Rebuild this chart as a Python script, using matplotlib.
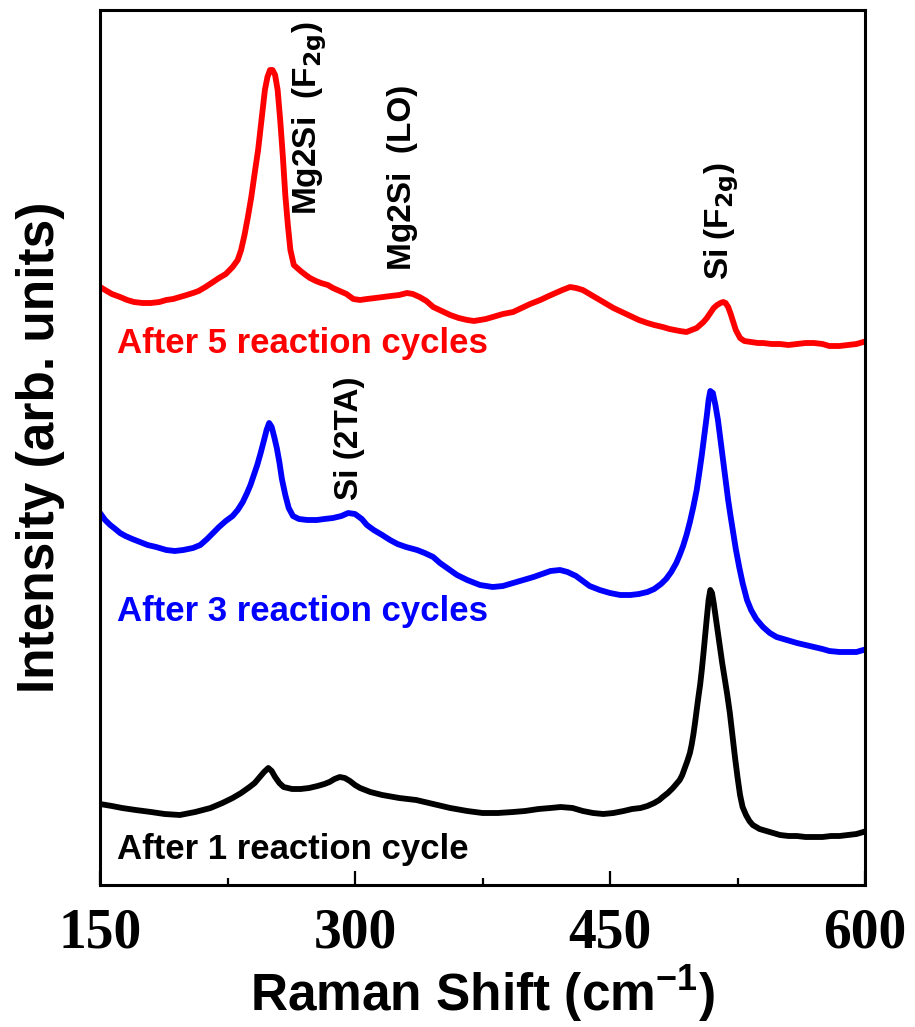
import matplotlib.pyplot as plt
from matplotlib.ticker import MultipleLocator

# Datos (intensidad en unidades arbitrarias)
shift_1 = [150, 157, 163, 171, 180, 188, 197, 206, 215, 222, 228, 233, 238, 241, 244, 246.5, 249,
           251, 253, 255.5, 258, 263, 268, 273, 278, 282, 285, 288, 291, 294, 297, 300, 303,
           309, 316, 326, 336, 346, 356, 366, 375, 384, 393, 400, 408, 415, 421, 428, 434,
           440, 446, 452, 458, 463, 468, 472, 476, 479, 481, 484, 487, 489, 491, 492.5, 494,
           495.5, 497, 498, 499, 500, 501, 502, 503, 504, 505, 506, 507, 508, 509, 510, 511,
           512, 513, 514.5, 516, 517.6, 519, 520.5, 522, 523.5, 525, 526.5, 528, 530, 532,
           534, 538, 542, 546, 550, 555, 560, 565, 569, 575, 580, 585, 590, 595, 599]
int_1 = [81, 79, 77, 75, 73, 71, 70, 73, 77, 82, 87, 92, 98, 102, 108, 113, 117,
         114, 108, 102, 98, 96, 96, 97, 99, 101, 103, 106, 108, 107, 104, 100, 97,
         93, 90, 87, 85, 81, 77, 74, 72, 72, 73, 74, 76, 77, 78, 77, 74,
         72, 71, 72, 74, 76, 77, 79, 82, 85, 88, 92, 97, 101, 105, 110, 117,
         124, 132, 140, 150, 162, 175, 188, 200, 215, 232, 250, 268, 285, 295, 292, 282,
         270, 258, 240, 222, 205, 190, 172, 150, 128, 108, 90, 78, 70, 64,
         60, 56, 54, 52, 50, 49, 49, 48, 48, 48, 49, 49, 50, 51, 53]

shift_3 = [150, 153, 156, 159, 161.8, 165, 169, 173.5, 178, 183, 189, 194, 199, 204.7, 209,
           213, 216.5, 220, 224, 228, 231, 234, 236.5, 238.5, 240.5, 242.5, 244.5, 246.5, 248,
           249.5, 251, 252.5, 254, 255.5, 257, 259, 261, 263.5, 267, 272, 277.6, 282, 287,
           292, 296, 300, 304, 307, 311, 316, 320.6, 325, 330, 336.5, 341, 346, 350, 355, 360,
           366, 373.5, 381, 387, 393, 399, 405, 410, 415, 420.6, 425, 430, 434, 438, 444, 450,
           456, 462, 467, 472, 476, 480, 483, 486, 489, 491, 493, 495, 497, 499, 501, 502.5,
           504, 505.5, 507, 508, 509, 510.5, 512, 513.5, 515, 516.5, 518, 519.5, 521, 522.5,
           524, 526, 528, 530.6, 533, 536, 540, 544, 548, 552, 556, 560, 565, 570, 575, 579,
           585, 590, 595, 599]
int_3 = [372, 365, 360, 356, 352, 349, 346, 343, 340, 338, 335, 334, 335, 337, 340,
         346, 352, 358, 364, 369, 375, 383, 392, 400, 410, 420, 432, 445, 455,
         462, 458, 448, 437, 423, 406, 390, 377, 369, 366, 365, 365, 366, 367,
         369, 372, 371, 366, 360, 355, 350, 345, 341, 338, 335, 332, 328, 322, 316, 310,
         305, 300, 298, 299, 302, 305, 308, 311, 314, 315, 313, 309, 304, 299, 295, 292,
         290, 290, 291, 293, 296, 301, 306, 313, 322, 330, 339, 350, 363, 378, 395, 412,
         430, 450, 470, 485, 494, 492, 480, 465, 445, 425, 405, 385, 368, 352,
         336, 318, 302, 285, 275, 266, 258, 252, 248, 246, 244, 242, 240, 238, 236, 234,
         233, 233, 233, 235]

shift_5 = [150, 153, 157, 161.8, 166, 170, 175, 180, 185, 189,
           193, 197, 201, 204.7, 208, 212, 216.5, 220, 224, 228,
           231, 233, 235, 237, 239, 241, 243, 245, 247, 248.5,
           250, 251.5, 253, 254.5, 256, 257.5, 259, 260.5, 262, 264,
           268, 271, 273.5, 277, 280, 284, 287, 291, 295, 299,
           303, 307, 312, 316.5, 321, 326, 330.6, 334, 338, 342,
           346, 351, 356, 361, 366, 370, 373.5, 377, 381, 387,
           393, 398, 403, 409, 414, 418, 422, 426.5, 430, 434,
           438, 442, 447, 452, 457, 462, 467, 472, 476, 481,
           485, 488, 491, 495, 498, 501, 503, 505, 507, 509,
           511, 513, 515, 516.6, 518, 519.5, 521, 522.5, 524, 526.5,
           529, 533, 537, 540, 545, 550, 555, 560, 565, 570,
           575, 579, 585, 590, 595, 599]
int_5 = [598, 595, 591, 588, 585, 583, 582, 582, 583, 585,
         586, 588, 590, 592, 594, 598, 603, 607, 611, 618,
         625, 635, 650, 668, 688, 712, 735, 765, 795, 808,
         815, 815, 810, 795, 765, 730, 690, 660, 635, 620,
         614, 610, 607, 604, 602, 600, 597, 594, 591, 586,
         585, 586, 587, 588, 589, 590, 592, 591, 588, 584,
         578, 574, 570, 567, 565, 564, 565, 566, 568, 571,
         573, 577, 581, 585, 589, 592, 595, 598, 597, 595,
         591, 587, 582, 577, 573, 569, 565, 562, 560, 558,
         556, 555, 554, 553, 555, 557, 560, 563, 567, 572,
         577, 580, 582, 583, 582, 578, 571, 563, 555, 547,
         544, 543, 542, 542, 541, 541, 540, 541, 542, 542,
         541, 539, 539, 540, 541, 543]

# Anotaciones (posicion x en cm-1, base del texto en unidades de intensidad)
etiquetas = [r'Mg2Si  (F$_{\mathbf{2g}}$)', 'Mg2Si  (LO)', 'Si (2TA)', r'Si (F$_{\mathbf{2g}}$)']
etiq_x = [273.5, 328, 297, 516]
etiq_y = [670, 615, 385, 605]

plt.rcParams['font.family'] = ['Liberation Sans', 'DejaVu Sans']
plt.rcParams['mathtext.default'] = 'regular'

fig = plt.figure(figsize=(9.15, 10.27), dpi=100)
ax = fig.add_axes([100/915, 142/1027, 765/915, 875/1027])

ax.plot(shift_1, int_1, color='black', lw=4.2, solid_joinstyle='round')
ax.plot(shift_3, int_3, color='blue', lw=4.2, solid_joinstyle='round')
ax.plot(shift_5, int_5, color='red', lw=4.2, solid_joinstyle='round')

ax.set_xlim(150, 600)
ax.set_ylim(0, 875)
ax.xaxis.set_major_locator(MultipleLocator(150))
ax.xaxis.set_minor_locator(MultipleLocator(75))
ax.tick_params(axis='x', which='major', direction='in', length=10, width=1.6, pad=16)
ax.tick_params(axis='x', which='minor', direction='in', length=5, width=1.6)
ax.tick_params(axis='y', left=False, labelleft=False)
for lbl in ax.get_xticklabels():
    lbl.set_fontfamily('Liberation Serif')
    lbl.set_fontweight('bold')
    lbl.set_fontsize(40)
for s in ax.spines.values():
    s.set_linewidth(2.2)

ax.set_xlabel('Raman Shift (cm$^{-1}$)', fontsize=37, fontweight='bold', labelpad=3)
ax.set_ylabel('Intensity (arb. units)', fontsize=37, fontweight='bold', labelpad=25)

ax.text(0.022, (885 - 343)/875, 'After 5 reaction cycles', fontsize=25, fontweight='bold',
        color='red', transform=ax.transAxes, va='center', ha='left')
ax.text(0.022, (885 - 612)/875, 'After 3 reaction cycles', fontsize=25, fontweight='bold',
        color='blue', transform=ax.transAxes, va='center', ha='left')
ax.text(0.022, (885 - 849)/875, 'After 1 reaction cycle', fontsize=25, fontweight='bold',
        color='black', transform=ax.transAxes, va='center', ha='left')

for t, x, y in zip(etiquetas, etiq_x, etiq_y):
    ax.text(x, y, t, rotation=90, fontsize=24, fontweight='bold', ha='center', va='bottom')

fig.savefig('out.png', dpi=100)
